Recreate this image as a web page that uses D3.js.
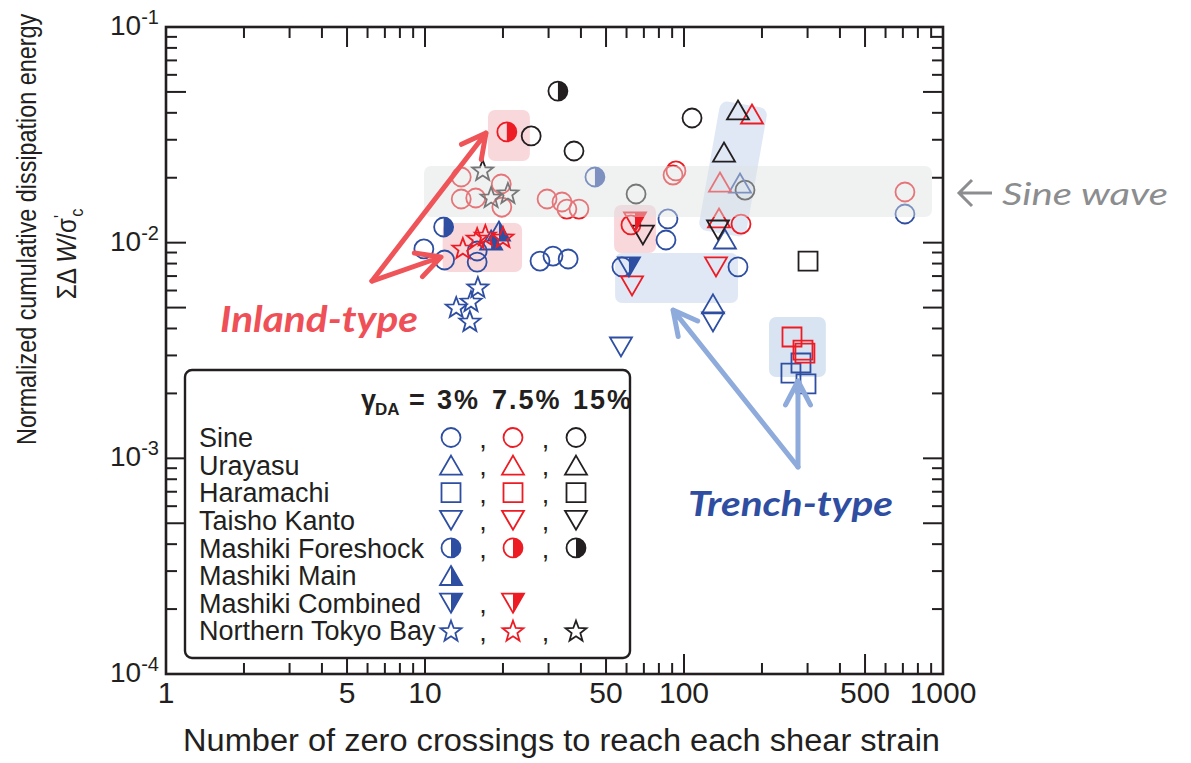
<!DOCTYPE html>
<html>
<head>
<meta charset="utf-8">
<script src="https://cdn.jsdelivr.net/npm/d3@7"></script>
<style>
  body { margin: 0; background: #fff; }
  svg { display: block; font-family: "Liberation Sans", Arial, sans-serif; }
</style>
</head>
<body>
<svg id="chart" width="1191" height="763"></svg>
<script>
'use strict';

// [number of zero crossings, normalized cumulative dissipation energy]
const sineBlue = [[9.9, 0.00935], [11.9, 0.00831], [15.9, 0.00915], [15.9, 0.00813], [27.8, 0.00822], [31.2, 0.00867],
    [35.7, 0.0084], [57.6, 0.00772], [86.7, 0.01288], [85.2, 0.01029], [161.6, 0.00772], [713, 0.01358]];
const sineRed = [[13.8, 0.02016], [13.8, 0.01594], [15.7, 0.01611], [19.7, 0.01871], [19.8, 0.01463], [29.6, 0.01594],
    [33.8, 0.01544], [35.3, 0.01432], [39.3, 0.01432], [90.7, 0.02059], [93.1, 0.0215], [62.4, 0.01208], [166, 0.0122], [713, 0.01718]];
const sineBlack = [[25.7, 0.03124], [37.6, 0.02661], [107.4, 0.03785], [65.3, 0.01681], [172, 0.01754]];
const urayasuBlue = [[164.5, 0.0189], [143.9, 0.0104], [129.4, 0.0052]];
const urayasuRed = [[183, 0.03949], [137.7, 0.0191], [136.5, 0.01302]];
const urayasuBlack = [[161.6, 0.04124], [142.7, 0.02632]];
const haramachiBlue = [[282.9, 0.002767], [258.8, 0.002486], [295.8, 0.002212]];
const haramachiRed = [[261.2, 0.003652], [288, 0.003178], [293, 0.003078]];
const haramachiBlack = [[301.2, 0.00822]];
const taishoBlue = [[129.4, 0.00429], [57.1, 0.003282]];
const taishoRed = [[63, 0.0063], [132.9, 0.00772]];
const taishoBlack = [[69.4, 0.01085], [135.3, 0.01145]];
const foreshockBlue = [[11.8, 0.01182], [45.3, 0.02016]];
const foreshockRed = [[20.7, 0.03261]];
const foreshockBlack = [[32.6, 0.05047]];
const mainBlue = [[19.3, 0.01132], [18.0, 0.01029]];
const combinedBlue = [[61.3, 0.00772]];
const combinedRed = [[64.7, 0.01247]];
const tokyoBlue = [[16.0, 0.00623], [15.05, 0.00536], [13.2, 0.00503], [14.9, 0.00433]];
const tokyoRed = [[14.0, 0.00944], [15.9, 0.01051], [17.1, 0.01085], [20.0, 0.01062]];
const tokyoBlack = [[16.7, 0.02173], [18.0, 0.01628], [20.9, 0.017]];

const legendNames = ["Sine", "Urayasu", "Haramachi", "Taisho Kanto", "Mashiki Foreshock", "Mashiki Main", "Mashiki Combined", "Northern Tokyo Bay"];
const strainLevels = ["3%", "7.5%", "15%"];
const xTickLabels = [1, 5, 10, 50, 100, 500, 1000];
const yTickExponents = [-1, -2, -3, -4];

const colors = ["#2e4ea2", "#ed1c24", "#231f20"];

// one entry per legend row: shape, half filled or not, data for each strain level
const rows = [
    { shape: "circle", half: false, sets: [sineBlue, sineRed, sineBlack] },
    { shape: "up", half: false, sets: [urayasuBlue, urayasuRed, urayasuBlack] },
    { shape: "square", half: false, sets: [haramachiBlue, haramachiRed, haramachiBlack] },
    { shape: "down", half: false, sets: [taishoBlue, taishoRed, taishoBlack] },
    { shape: "circle", half: true, sets: [foreshockBlue, foreshockRed, foreshockBlack] },
    { shape: "up", half: true, sets: [mainBlue] },
    { shape: "down", half: true, sets: [combinedBlue, combinedRed] },
    { shape: "star", half: false, sets: [tokyoBlue, tokyoRed, tokyoBlack] }
];

const margin = { left: 166, top: 27 };
const width = 777, height = 647;

const svg = d3.select("#chart");
const g = svg.append("g").attr("transform", "translate(" + margin.left + "," + margin.top + ")");

const x = d3.scaleLog().domain([1, 1000]).range([0, width]);
const y = d3.scaleLog().domain([1e-4, 1e-1]).range([height, 0]);

function starPath(ro, ri) {
    let p = "";
    for (let i = 0; i < 10; i++) {
        const r = i % 2 === 0 ? ro : ri;
        const a = -Math.PI / 2 + i * Math.PI / 5;
        p += (i === 0 ? "M" : "L") + (r * Math.cos(a)).toFixed(2) + "," + (r * Math.sin(a) + 1).toFixed(2);
    }
    return p + "Z";
}

const outline = {
    circle: "M0,-9.5A9.5,9.5 0 1 1 0,9.5A9.5,9.5 0 1 1 0,-9.5Z",
    up: "M0,-9.5L11,9.5L-11,9.5Z",
    down: "M-11,-9.5L11,-9.5L0,9.5Z",
    square: "M-9.5,-9.5h19v19h-19Z",
    star: starPath(11, 4.6)
};
const halfFill = {
    circle: "M0,-9.5A9.5,9.5 0 0 1 0,9.5Z",
    up: "M0,-9.5L11,9.5L0,9.5Z",
    down: "M0,-9.5L11,-9.5L0,9.5Z"
};

function marker(parent, shape, half, color, px, py) {
    const m = parent.append("g").attr("transform", "translate(" + px + "," + py + ")");
    m.append("path").attr("d", outline[shape])
        .attr("fill", "none").attr("stroke", color).attr("stroke-width", 1.8)
        .attr("stroke-linejoin", "miter");
    if (half) {
        m.append("path").attr("d", halfFill[shape]).attr("fill", color);
    }
}

// highlight boxes underneath the markers
const boxes = g.append("g");
function dataRect(x0, x1, y0, y1, fill) {
    boxes.append("rect")
        .attr("x", x(x0)).attr("y", y(y1))
        .attr("width", x(x1) - x(x0)).attr("height", y(y0) - y(y1))
        .attr("rx", 7).attr("fill", fill);
}
dataRect(17.5, 25.4, 0.02391, 0.04124, "#f9d8dc");
dataRect(11.7, 23.7, 0.00731, 0.01234, "#f9d8dc");
dataRect(53.7, 78.0, 0.00896, 0.01495, "#f9d8dc");
dataRect(54.2, 161.6, 0.00525, 0.00896, "#dfe8f4");
dataRect(213, 353, 0.00238, 0.00452, "#d9e4f3");
boxes.append("rect")
    .attr("transform", "translate(" + x(154.6) + "," + y(0.02195) + ") rotate(10)")
    .attr("x", -24).attr("y", -65.5).attr("width", 48).attr("height", 131)
    .attr("rx", 8).attr("fill", "#dfe8f4");

// markers
const marks = g.append("g");
rows.forEach(function(row) {
    row.sets.forEach(function(set, level) {
        set.forEach(function(d) {
            marker(marks, row.shape, row.half, colors[level], x(d[0]), y(d[1]));
        });
    });
});

// sine wave band sits on top of the markers
g.append("rect")
    .attr("x", x(9.91)).attr("y", y(0.02267))
    .attr("width", x(907) - x(9.91)).attr("height", y(0.01315) - y(0.02267))
    .attr("rx", 7).attr("fill", "#dde2e2").attr("opacity", 0.45);

// arrows
function arrow(from, to, color) {
    const x0 = x(from[0]), y0 = y(from[1]), x1 = x(to[0]), y1 = y(to[1]);
    const a = Math.atan2(y1 - y0, x1 - x0), L = 27, s = 0.48;
    const p = "M" + x0 + "," + y0 + "L" + x1 + "," + y1 +
        "M" + (x1 - L * Math.cos(a - s)) + "," + (y1 - L * Math.sin(a - s)) +
        "L" + x1 + "," + y1 +
        "L" + (x1 - L * Math.cos(a + s)) + "," + (y1 - L * Math.sin(a + s));
    g.append("path").attr("d", p).attr("fill", "none").attr("stroke", color)
        .attr("stroke-width", 5).attr("stroke-linecap", "round").attr("stroke-linejoin", "round");
}
arrow([6.24, 0.00664], [17.2, 0.03225], "#ef5459");
arrow([6.24, 0.00664], [11.53, 0.00858], "#ef5459");
arrow([275.5, 0.000912], [90.7, 0.00487], "#8eabdb");
arrow([275.5, 0.000912], [275.5, 0.002284], "#8eabdb");

// frame and inward ticks
const axisColor = "#231f20";
function isLong(v) {
    const m = Math.round(v / Math.pow(10, Math.floor(Math.log10(v) + 1e-9)));
    return m === 1 || m === 5;
}
const ticks = g.append("g").attr("stroke", axisColor).attr("stroke-width", 2);
x.ticks().forEach(function(v) {
    const px = x(v), len = isLong(v) ? 20 : 11;
    ticks.append("line").attr("x1", px).attr("x2", px).attr("y1", height).attr("y2", height - len);
    ticks.append("line").attr("x1", px).attr("x2", px).attr("y1", 0).attr("y2", len);
});
y.ticks().forEach(function(v) {
    const py = y(v), len = isLong(v) ? 20 : 11;
    ticks.append("line").attr("y1", py).attr("y2", py).attr("x1", 0).attr("x2", len);
    ticks.append("line").attr("y1", py).attr("y2", py).attr("x1", width).attr("x2", width - len);
});
g.append("rect").attr("width", width).attr("height", height)
    .attr("fill", "none").attr("stroke", axisColor).attr("stroke-width", 2.6);

// tick labels
g.selectAll(".xlab").data(xTickLabels).enter().append("text")
    .attr("x", function(d) { return x(d); }).attr("y", height + 29)
    .attr("text-anchor", "middle").attr("font-size", 30).attr("fill", axisColor)
    .text(function(d) { return d; });
const ylab = g.selectAll(".ylab").data(yTickExponents).enter().append("text")
    .attr("x", -7).attr("y", function(d) { return y(Math.pow(10, d)) + 8; })
    .attr("text-anchor", "end").attr("font-size", 28).attr("fill", axisColor);
ylab.append("tspan").text("10");
ylab.append("tspan").attr("dy", -11).attr("font-size", 20).text(function(d) { return String(d); });

// axis titles
svg.append("text").attr("x", 183).attr("y", 751)
    .attr("font-size", 31).attr("fill", axisColor)
    .attr("textLength", 757).attr("lengthAdjust", "spacingAndGlyphs")
    .text("Number of zero crossings to reach each shear strain");
// narrow lettering: squeeze along the reading direction
svg.append("text").attr("transform", "translate(36,445) rotate(-90) scale(0.835,1)")
    .attr("font-size", 28).attr("fill", axisColor)
    .text("Normalized cumulative dissipation energy");
const yt2 = svg.append("text").attr("transform", "translate(76,254) rotate(-90) scale(0.9,1)")
    .attr("text-anchor", "middle").attr("font-size", 27).attr("fill", axisColor);
yt2.append("tspan").text("ΣΔ ");
yt2.append("tspan").attr("font-style", "italic").text("W");
yt2.append("tspan").text("/σ");
yt2.append("tspan").attr("dy", -9).attr("font-size", 18).text("'");
yt2.append("tspan").attr("dy", 16).attr("dx", -2).attr("font-size", 18).text("c");

// legend
const leg = svg.append("g");
leg.append("rect").attr("x", 185).attr("y", 370).attr("width", 445).attr("height", 288)
    .attr("rx", 7).attr("fill", "#fff").attr("stroke", axisColor).attr("stroke-width", 2.4);

const ttl = leg.append("text").attr("y", 409).attr("font-size", 27).attr("font-weight", "bold").attr("fill", axisColor);
ttl.append("tspan").attr("x", 361).text("γ");
ttl.append("tspan").attr("x", 375).attr("dy", 6).attr("font-size", 17).text("DA");
ttl.append("tspan").attr("x", 409).attr("dy", -6).text("=");
const levelX = [437, 492, 573];
strainLevels.forEach(function(s, i) {
    ttl.append("tspan").attr("x", levelX[i]).attr("letter-spacing", 2).text(s);
});

const colX = [451, 513, 576];
rows.forEach(function(row, i) {
    const cy = 437.5 + 27.6 * i;
    leg.append("text").attr("x", 199).attr("y", cy + 9.6)
        .attr("font-size", 27).attr("fill", axisColor).text(legendNames[i]);
    row.sets.forEach(function(set, level) {
        marker(leg, row.shape, row.half, colors[level], colX[level], cy);
        if (level > 0) {
            leg.append("text").attr("x", (colX[level - 1] + colX[level]) / 2 + 1).attr("y", cy + 10)
                .attr("text-anchor", "middle").attr("font-size", 27).attr("fill", axisColor).text(",");
        }
    });
});

// annotations
svg.append("text").attr("x", 220).attr("y", 332)
    .attr("font-family", "Lato, 'Open Sans', sans-serif").attr("font-weight", "bold").attr("font-style", "italic")
    .attr("font-size", 36).attr("fill", "#ef4f57")
    .attr("textLength", 198).attr("lengthAdjust", "spacingAndGlyphs").text("Inland-type");
svg.append("text").attr("x", 688).attr("y", 516)
    .attr("font-family", "Lato, 'Open Sans', sans-serif").attr("font-weight", "bold").attr("font-style", "italic")
    .attr("font-size", 35).attr("fill", "#2f4ea1")
    .attr("textLength", 205).attr("lengthAdjust", "spacingAndGlyphs").text("Trench-type");
svg.append("text").attr("x", 1002).attr("y", 205)
    .attr("font-family", "Lato, 'Open Sans', sans-serif").attr("font-style", "italic")
    .attr("font-size", 31).attr("fill", "#8b8d8f")
    .attr("textLength", 166).attr("lengthAdjust", "spacingAndGlyphs").text("Sine wave");
svg.append("path").attr("d", "M992,193H959M972,180L959,193L972,206")
    .attr("fill", "none").attr("stroke", "#8b8d8f").attr("stroke-width", 3);
</script>
</body>
</html>
